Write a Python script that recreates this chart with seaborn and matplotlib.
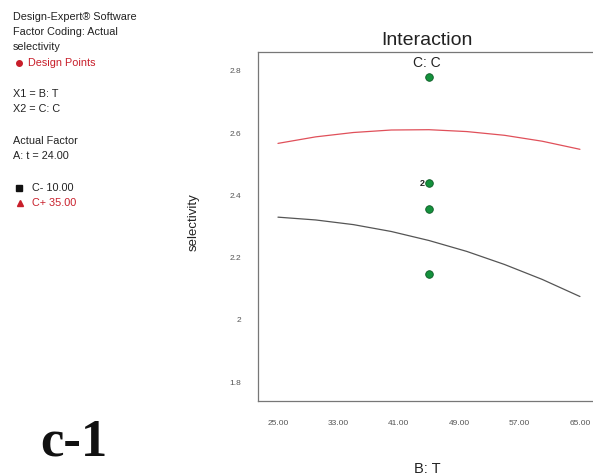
import matplotlib
matplotlib.use("Agg")
import matplotlib.pyplot as plt
from matplotlib.lines import Line2D
import seaborn as sns
import pandas as pd

# Model predictions of selectivity along B: T for the two levels of C
temp_levels = [25, 30, 35, 40, 45, 50, 55, 60, 65]
sel_c_low = [2.330, 2.321, 2.306, 2.284, 2.255, 2.220, 2.178, 2.130, 2.075]
sel_c_high = [2.567, 2.588, 2.602, 2.610, 2.611, 2.605, 2.593, 2.574, 2.548]

# Design points (observed runs)
design_t = [45, 45, 45, 45]
design_sel = [2.781, 2.439, 2.355, 2.148]
design_count = [1, 2, 1, 1]

x_ticks = [25, 33, 41, 49, 57, 65]
y_ticks = [1.8, 2.0, 2.2, 2.4, 2.6, 2.8]
y_tick_labels = ["1.8", "2", "2.2", "2.4", "2.6", "2.8"]

sns.set_style("white")
plt.rcParams["font.family"] = ["Liberation Sans", "DejaVu Sans"]

fig = plt.figure(figsize=(5.93, 4.76), dpi=100)
ax = fig.add_axes([0.435, 0.158, 0.571, 0.733])

curves = pd.DataFrame({
    "T": temp_levels * 2,
    "selectivity": sel_c_low + sel_c_high,
    "C": ["C- 10.00"] * len(temp_levels) + ["C+ 35.00"] * len(temp_levels),
})
sns.lineplot(data=curves, x="T", y="selectivity", hue="C",
             palette={"C- 10.00": "#555555", "C+ 35.00": "#e0505a"},
             linewidth=0.9, legend=False, ax=ax)

pts = pd.DataFrame({"T": design_t, "selectivity": design_sel})
sns.scatterplot(data=pts, x="T", y="selectivity", color="#14913c",
                edgecolor="#0b5a24", linewidth=0.6, s=30, zorder=5,
                legend=False, ax=ax)
for t, s, n in zip(design_t, design_sel, design_count):
    if n > 1:
        ax.text(t - 0.55, s, str(n), ha="right", va="center",
                fontsize=6.5, fontweight="bold", color="#222222")

ax.set_xlim(22.35, 67.2)
ax.set_ylim(1.74, 2.861)
ax.set_xticks(x_ticks)
ax.set_xticklabels([f"{v:.2f}" for v in x_ticks])
ax.set_yticks(y_ticks)
ax.set_yticklabels(y_tick_labels)
ax.tick_params(axis="both", direction="out", length=8, width=0.8,
               colors="#777777", labelcolor="#555555", labelsize=6, pad=4)
ax.tick_params(axis="x", pad=6)

for side in ("left", "top", "bottom"):
    ax.spines[side].set_color("#777777")
    ax.spines[side].set_linewidth(0.9)
ax.spines["right"].set_visible(False)

ax.set_xlabel("B: T", fontsize=10.5, color="#222222", labelpad=25)
ax.set_ylabel("selectivity", fontsize=9.5, color="#222222")
ax.yaxis.set_label_coords(-0.171, 0.512)
ax.set_title("Interaction", fontsize=14, color="#222222", pad=5)
ax.text(0.5, 0.967, "C: C", transform=ax.transAxes, ha="center",
        va="center", fontsize=10, color="#222222")

# Information panel on the left
def fy(py):
    return 1 - py / 476

def fx(px):
    return px / 593

info_lines = [
    (17, "Design-Expert® Software", "#222222", 13),
    (32, "Factor Coding: Actual", "#222222", 13),
    (47.5, "selectivity", "#222222", 13),
    (63.5, "Design Points", "#c81e2a", 28),
    (94, "X1 = B: T", "#222222", 13),
    (109, "X2 = C: C", "#222222", 13),
    (141, "Actual Factor", "#222222", 13),
    (156, "A: t = 24.00", "#222222", 13),
    (188, "C- 10.00", "#222222", 32),
    (203, "C+ 35.00", "#c81e2a", 32),
]
for py, txt, col, px in info_lines:
    fig.text(fx(px), fy(py), txt, ha="left", va="center", fontsize=7.8,
             color=col)

fig.add_artist(Line2D([fx(19)], [fy(63)], marker="o", markersize=4,
                      color="#c81e2a", transform=fig.transFigure))
fig.add_artist(Line2D([fx(19)], [fy(188)], marker="s", markersize=4,
                      color="#111111", transform=fig.transFigure))
fig.add_artist(Line2D([fx(20)], [fy(203)], marker="^", markersize=4.5,
                      color="#c81e2a", transform=fig.transFigure))

fig.text(fx(74), fy(442), "c-1", ha="center", va="center", fontsize=38,
         fontweight="bold", family=["Liberation Serif", "DejaVu Serif"],
         color="#111111")

fig.savefig("out.png", dpi=100, facecolor="white")
